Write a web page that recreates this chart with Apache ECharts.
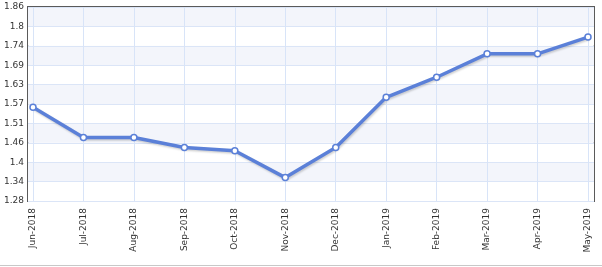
<!DOCTYPE html>
<html><head><meta charset="utf-8">
<script src="https://cdn.jsdelivr.net/npm/echarts@6/dist/echarts.min.js"></script>
<style>html,body{margin:0;padding:0;background:#fff;}#c{width:602px;height:267px;}</style>
</head><body><div id="c"></div>
<script>
const categories = ['Jun-2018','Jul-2018','Aug-2018','Sep-2018','Oct-2018','Nov-2018','Dec-2018','Jan-2019','Feb-2019','Mar-2019','Apr-2019','May-2019'];
const values = [1.56, 1.47, 1.47, 1.44, 1.43, 1.35, 1.44, 1.59, 1.65, 1.72, 1.72, 1.77];
const yTickLabels = ['1.28','1.34','1.4','1.46','1.51','1.57','1.63','1.69','1.74','1.8','1.86'];
const yMin = 1.28, yMax = 1.86;
const yStep = (yMax - yMin) / (yTickLabels.length - 1);

const chart = echarts.init(document.getElementById('c'));
const font = 'DejaVu Sans';
chart.setOption({
  animation: false,
  grid: [
    {left: 28, right: 8, top: 7, bottom: 66, show: true, borderColor: '#5a5a5a', borderWidth: 2, backgroundColor: 'transparent'},
    {left: 33, right: 14, top: 7, bottom: 66}
  ],
  xAxis: [
    {gridIndex: 0, type: 'value', min: 0, max: 1, show: false},
    {gridIndex: 1, type: 'category', data: categories, boundaryGap: false,
     axisLine: {show: false}, axisTick: {show: false},
     splitLine: {show: true, lineStyle: {color: '#d8e4f8', width: 1}},
     axisLabel: {rotate: 90, color: '#333', fontFamily: font, fontSize: 9, margin: 7, interval: 0}}
  ],
  yAxis: [
    {gridIndex: 0, type: 'value', min: yMin, max: yMax, interval: yStep,
     axisLine: {show: false}, axisTick: {show: false},
     splitLine: {show: true, lineStyle: {color: '#dbe5f7', width: 1}},
     splitArea: {show: true, areaStyle: {color: ['#ffffff', '#f3f5fb']}},
     axisLabel: {color: '#333', fontFamily: font, fontSize: 9, margin: 4,
       formatter: v => yTickLabels[Math.round((v - yMin) / yStep)]}},
    {gridIndex: 1, type: 'value', min: yMin, max: yMax, show: false, splitLine: {show: false}}
  ],
  series: [{
    type: 'line', xAxisIndex: 1, yAxisIndex: 1, data: values,
    symbol: 'circle', symbolSize: 6,
    lineStyle: {color: '#5b80d8', width: 3.5, shadowColor: 'rgba(0,0,0,0.18)', shadowBlur: 2, shadowOffsetY: 1.5, shadowOffsetX: 1},
    itemStyle: {color: '#ffffff', borderColor: '#5b80d8', borderWidth: 1.5}
  }],
  graphic: [{type: 'line', shape: {x1: 0, y1: 265.5, x2: 602, y2: 265.5}, style: {stroke: '#c8c8c8', lineWidth: 1}}]
});
</script></body></html>
